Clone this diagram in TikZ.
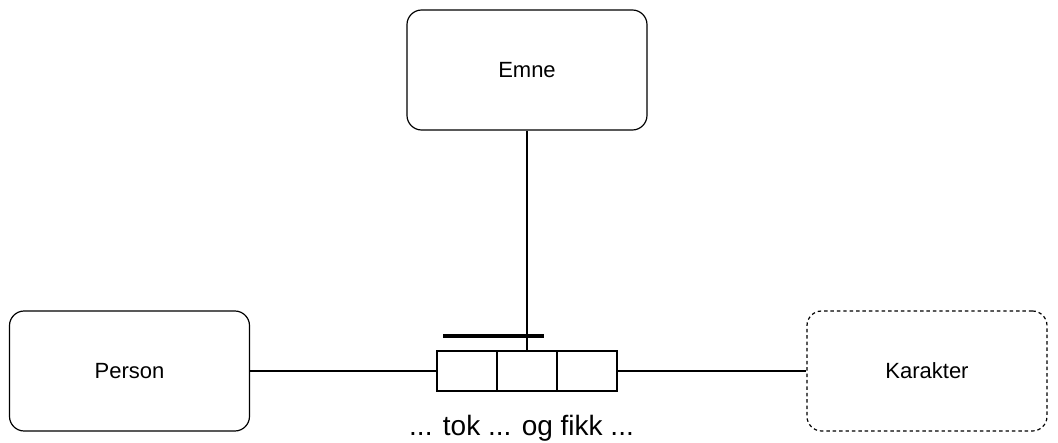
\documentclass[tikz,border=0pt]{standalone}
\usepackage{fontspec}
\setmainfont{Liberation Sans}
\usetikzlibrary{positioning}

\tikzset{
  entity/.style={draw, rounded corners=11pt, minimum width=180pt, minimum height=90pt,
    line width=0.9pt, font=\fontsize{16.5}{18}\selectfont},
  weakentity/.style={entity, dash pattern=on 2.6pt off 2.2pt},
  cell/.style={draw, minimum width=45pt, minimum height=30pt, outer sep=0pt, line width=0.9pt},
}

\begin{document}
\begin{tikzpicture}[x=0.75pt, y=0.75pt]
        \useasboundingbox (0,0) rectangle (1058,-443);

        \node[entity] (emne) at (527,-70) {Emne};
        \node[entity] (person) at (129.5,-371) {Person};
        \node[weakentity] (karakter) at (927,-371) {Karakter};

        \node[cell] (c2) at (527,-371) {};
        \node[cell, left=0pt of c2] (c1) {};
        \node[cell, right=0pt of c2] (c3) {};
        \node[anchor=base, font=\fontsize{21}{24}\selectfont] (lbl) at (521.5,-435) {... tok ... og fikk ...};

        \draw[line width=0.9pt] (emne.south) -- (c2.north);
        \draw[line width=0.9pt] (person.east) -- (c1.west);
        \draw[line width=0.9pt] (c3.east) -- (karakter.west);

        % one-mark on the Emne side
        \coordinate (barl) at (443,-336); \coordinate (barr) at (544,-336);
        \draw[line width=2.3pt] (barl) -- (barr);
    \end{tikzpicture}
\end{document}
